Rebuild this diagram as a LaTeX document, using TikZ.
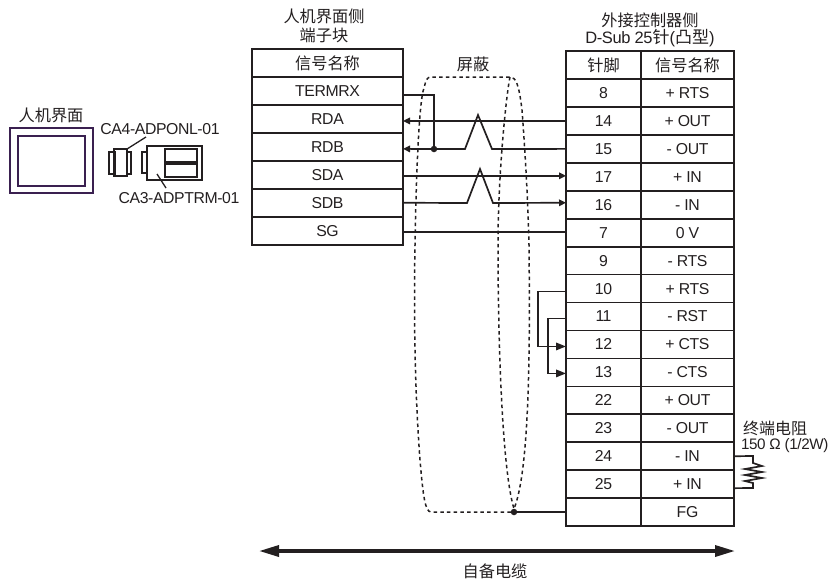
\documentclass[tikz,border=0pt]{standalone}
\usepackage{fontspec}
\setmainfont[LetterSpace=-2.5]{Liberation Sans}
\newfontfamily\cjk{Noto Sans CJK SC}
\usetikzlibrary{arrows.meta}
\definecolor{ink}{HTML}{231F20}
\definecolor{hmi}{HTML}{3A2050}
\tikzset{
  every node/.style={inner sep=0pt,outer sep=0pt,text=ink,font=\fontsize{15.8}{17}\selectfont},
  cell/.style={draw=ink,line width=1.7pt,minimum height=#1},
  lcell/.style={cell=28pt,minimum width=151pt},
  ncell/.style={cell=27.94pt,minimum width=75pt},
  tcell/.style={cell=27.94pt,minimum width=93pt},
  wire/.style={draw=ink,line width=1.7pt},
  sig/.style={wire,-{Triangle[length=7pt,width=6.5pt]}},
  jump/.style={wire,-{Triangle[length=10pt,width=7.5pt]}},
  shield/.style={draw=ink,line width=1.5pt,dash pattern=on 3.5pt off 3.2pt},
  dotn/.style={circle,fill=ink,minimum size=6.5pt},
  dev/.style={draw=ink,line width=1.3pt},
  hmibox/.style={draw=hmi,line width=1.8pt},
  cn/.style={font=\fontsize{16.2}{18}\selectfont\cjk},
  lbl/.style={font=\fontsize{15.8}{17}\selectfont}
}
\begin{document}
\begin{tikzpicture}[x=1pt,y=-1pt]
\useasboundingbox (0,0) rectangle (832,579);
% titles
\node[cn] (t1) at (324,16) {人机界面侧};
\node[cn] (t2) at (324,35) {端子块};
\node[cn] (t3) at (650,20) {外接控制器侧};
\node[font=\fontsize{16.5}{18}\selectfont] (t4) at (650,38) {D-Sub 25{\fontsize{17}{18}\selectfont\cjk 针}({\fontsize{17}{18}\selectfont\cjk 凸型})};
\node[cn] (tsh) at (473,64) {屏蔽};
% left table
\node[lcell,cn] (lh) at (327.5,63) {信号名称};
\node[lcell] (lTERM) at (327.5,91) {TERMRX};
\node[lcell] (lRDA) at (327.5,119) {RDA};
\node[lcell] (lRDB) at (327.5,147) {RDB};
\node[lcell] (lSDA) at (327.5,175) {SDA};
\node[lcell] (lSDB) at (327.5,203) {SDB};
\node[lcell] (lSG) at (327.5,231) {SG};
% right table
\node[ncell,cn] (nh) at (603.5,65) {针脚};
\node[tcell,cn] (th) at (687.5,65) {信号名称};
\foreach \i/\n/\t in {0/8/+ RTS,1/14/+ OUT,2/15/- OUT,3/17/+ IN,4/16/- IN,5/7/0 V,6/9/- RTS,7/10/+ RTS,8/11/- RST,9/12/+ CTS,10/13/- CTS,11/22/+ OUT,12/23/- OUT,13/24/- IN,14/25/+ IN}{
  \node[ncell] (n\n) at (603.5,{93+27.94*\i}) {\n};
  \node[tcell] (t\n) at (687.5,{93+27.94*\i}) {\t};
}
\node[ncell] (nFG) at (603.5,512) {};
\node[tcell] (tFG) at (687.5,512) {FG};
% HMI
\node[cn] (hl) at (51,115) {人机界面};
\node[hmibox,minimum width=83pt,minimum height=65pt] (hmiO) at (51.5,160.5) {};
\node[hmibox,minimum width=67pt,minimum height=50pt] (hmiI) at (51.5,161) {};
% adapters
\node[dev,minimum width=6pt,minimum height=22pt] (a1) at (112,163) {};
\node[dev,minimum width=13pt,minimum height=27pt] (a2) at (120.5,162.5) {};
\node[dev,minimum width=4pt,minimum height=22pt] (a3) at (129,163) {};
\node[dev,minimum width=5pt,minimum height=21pt] (b1) at (144.5,162.5) {};
\node[dev,minimum width=55pt,minimum height=34pt] (b2) at (174.5,163) {};
\node[dev,minimum width=32pt,minimum height=13pt] (b3) at (181,155.5) {};
\node[dev,minimum width=32pt,minimum height=13pt] (b4) at (181,170.5) {};
\node[lbl] (ca4) at (160,129) {CA4-ADPONL-01};
\node[lbl] (ca3) at (179,198) {CA3-ADPTRM-01};
\coordinate (ca4e) at (146,137);
\coordinate (ca3e) at (157,174);
\coordinate (ca3f) at (166,188);
\draw[dev] (a2.north east) -- (ca4e);
\draw[dev] (ca3e) -- (ca3f);
% signal wires
\node[dotn] (jd) at (434,149) {};
\draw[wire] ([yshift=-4pt]lTERM.east) -| (jd);
\draw[sig] (n14.west) -- (n14.west -| lRDA.east);
\draw[sig] (n15.west) -- (492,149) -- (478,115) -- (465,149) -- (n15.west -| lRDB.east);
\draw[sig] ([yshift=1pt]n17.west -| lSDA.east) -- ([yshift=1pt]n17.west);
\draw[sig] ([yshift=2pt]n16.west -| lSDB.east) -- (467,203) -- (480,169) -- (493,203) -- ([yshift=2pt]n16.west);
\draw[wire] ([yshift=1pt]n7.west -| lSG.east) -- ([yshift=1pt]n7.west);
% jumpers
\draw[jump] ([yshift=-3pt]n10.west) -- ++(-28,0) |- ([yshift=-2pt]n12.west);
\draw[jump] ([yshift=-2pt]n11.west) -- ++(-18,0) |- ([yshift=-1pt]n13.west);
% shield
\node[dotn] (sd) at (514,512) {};
\draw[wire] (sd) -- (nFG.west);
\draw[shield] (sd.west) -- (431,512) .. controls (425,512) and (423,495) .. (420,460) .. controls (414,380) and (414,300) .. (415,245) .. controls (416,180) and (419,100) .. (424,88) .. controls (426,80) and (427,77) .. (431,77) -- (510,77) .. controls (516,77) and (519,85) .. (522,110) .. controls (525,150) and (528,200) .. (529,245) .. controls (530,340) and (530,470) .. (sd.north);
\draw[shield] (510,77) .. controls (507,90) and (498,170) .. (498,245) .. controls (498,340) and (502,470) .. (sd.north);
% terminator
\node[anchor=west,font=\fontsize{16}{18}\selectfont\cjk] (rt1) at (743,428) {终端电阻};
\node[anchor=west,font=\fontsize{15.2}{17}\selectfont] (rt2) at (741,446) {150 Ω (1/2W)};
\draw[wire,line join=miter] (t24.east) -- (753,456) -- (753,463) -- (762,466) -- (745,469) -- (762,472) -- (745,475) -- (762,478) -- (745,481) -- (753,483) -- (753,488) -- ([yshift=-4pt]t25.east);
% cable
\node[cn] (cab) at (495,571) {自备电缆};
\coordinate (cl) at (259,551);
\coordinate (cr) at (735,551);
\draw[draw=ink,line width=3.4pt,{Triangle[length=20pt,width=11pt]}-{Triangle[length=20pt,width=11pt]}] (cl) -- (cr);
\end{tikzpicture}
\end{document}
